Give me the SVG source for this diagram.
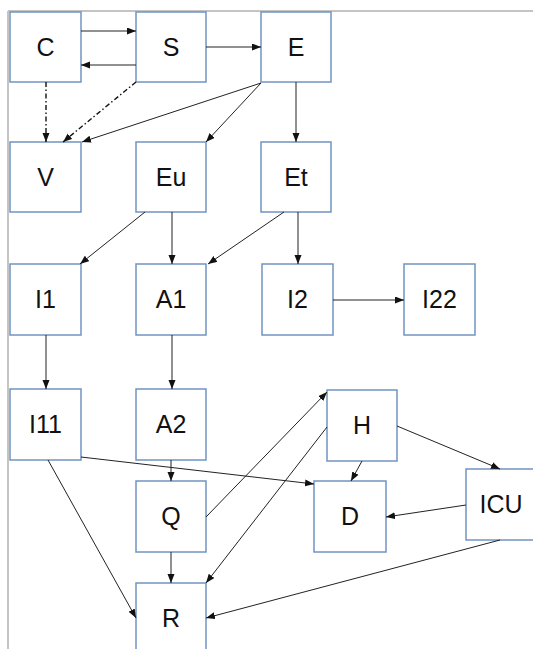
<svg xmlns="http://www.w3.org/2000/svg" width="533" height="649" viewBox="0 0 533 649">
<style>
.box{fill:#ffffff;stroke:#7194c2;stroke-width:1.5}
.lbl{font-family:"Liberation Sans",Arial,sans-serif;font-size:25px;fill:#111;text-anchor:middle}
.e{fill:none;stroke:#222;stroke-width:1;marker-end:url(#ah)}
.dd{stroke:#111;stroke-width:1.4;stroke-dasharray:5 2.5 1.5 2.5}
</style>
<defs>
<marker id="ah" markerUnits="userSpaceOnUse" markerWidth="10" markerHeight="8" refX="9" refY="3.5" orient="auto">
<path d="M0,0 L9,3.5 L0,7 z" fill="#111"/>
</marker>
</defs>
<rect x="0" y="0" width="533" height="649" fill="#fff"/>
<g id="frame" stroke="#c4c4c4" stroke-width="2" fill="none">
<path d="M8,11 L533,11 M8,11 L8,649"/>
</g>
<g id="C"><rect class="box" x="10" y="12" width="71" height="70"/><text class="lbl" x="45.5" y="56">C</text></g>
<g id="S"><rect class="box" x="136" y="12" width="70" height="70"/><text class="lbl" x="171" y="56">S</text></g>
<g id="E"><rect class="box" x="261" y="12" width="70" height="70"/><text class="lbl" x="296" y="56">E</text></g>
<g id="V"><rect class="box" x="10" y="142" width="71" height="70"/><text class="lbl" x="45.5" y="186">V</text></g>
<g id="Eu"><rect class="box" x="136" y="142" width="70" height="70"/><text class="lbl" x="171" y="186">Eu</text></g>
<g id="Et"><rect class="box" x="261" y="142" width="70" height="70"/><text class="lbl" x="296" y="186">Et</text></g>
<g id="I1"><rect class="box" x="10" y="264" width="71" height="71"/><text class="lbl" x="45.5" y="308">I1</text></g>
<g id="A1"><rect class="box" x="136" y="264" width="70" height="71"/><text class="lbl" x="171" y="308">A1</text></g>
<g id="I2"><rect class="box" x="262" y="264" width="71" height="71"/><text class="lbl" x="297.5" y="308">I2</text></g>
<g id="I22"><rect class="box" x="404" y="264" width="71" height="71"/><text class="lbl" x="439.5" y="308">I22</text></g>
<g id="I11"><rect class="box" x="10" y="389" width="71" height="71"/><text class="lbl" x="45.5" y="433">I11</text></g>
<g id="A2"><rect class="box" x="136" y="389" width="70" height="71"/><text class="lbl" x="171" y="433">A2</text></g>
<g id="H"><rect class="box" x="327" y="390" width="70" height="71"/><text class="lbl" x="362" y="434">H</text></g>
<g id="Q"><rect class="box" x="136" y="481" width="70" height="71"/><text class="lbl" x="171" y="525">Q</text></g>
<g id="D"><rect class="box" x="314" y="481" width="72" height="71"/><text class="lbl" x="350" y="525">D</text></g>
<g id="ICU"><rect class="box" x="466" y="469" width="70" height="71"/><text class="lbl" x="501" y="513">ICU</text></g>
<g id="R"><rect class="box" x="136" y="583" width="70" height="71"/><text class="lbl" x="171" y="627">R</text></g>
<g id="connectors">
<path class="e" d="M81,31 L136,31"/>
<path class="e" d="M136,65 L81,65"/>
<path class="e" d="M206,47 L261,47"/>
<path class="e dd" d="M46,82 L46,142"/>
<path class="e dd" d="M136,82 L63,142"/>
<path class="e" d="M261,83 L82,142"/>
<path class="e" d="M261,83 L206,142"/>
<path class="e" d="M296,82 L296,142"/>
<path class="e" d="M145,212 L80,264"/>
<path class="e" d="M172,212 L172,264"/>
<path class="e" d="M284,212 L208,264"/>
<path class="e" d="M298,212 L298,264"/>
<path class="e" d="M333,300 L404,300"/>
<path class="e" d="M46,335 L46,389"/>
<path class="e" d="M172,335 L172,389"/>
<path class="e" d="M81,457 L314,484"/>
<path class="e" d="M48,460 L136,618"/>
<path class="e" d="M171,460 L171,481"/>
<path class="e" d="M206,517 L327,392"/>
<path class="e" d="M327,427 L206,583"/>
<path class="e" d="M362,461 L351,481"/>
<path class="e" d="M397,426 L500,469"/>
<path class="e" d="M466,505 L386,517"/>
<path class="e" d="M500,540 L206,618"/>
<path class="e" d="M171,552 L171,583"/>
</g>
</svg>
